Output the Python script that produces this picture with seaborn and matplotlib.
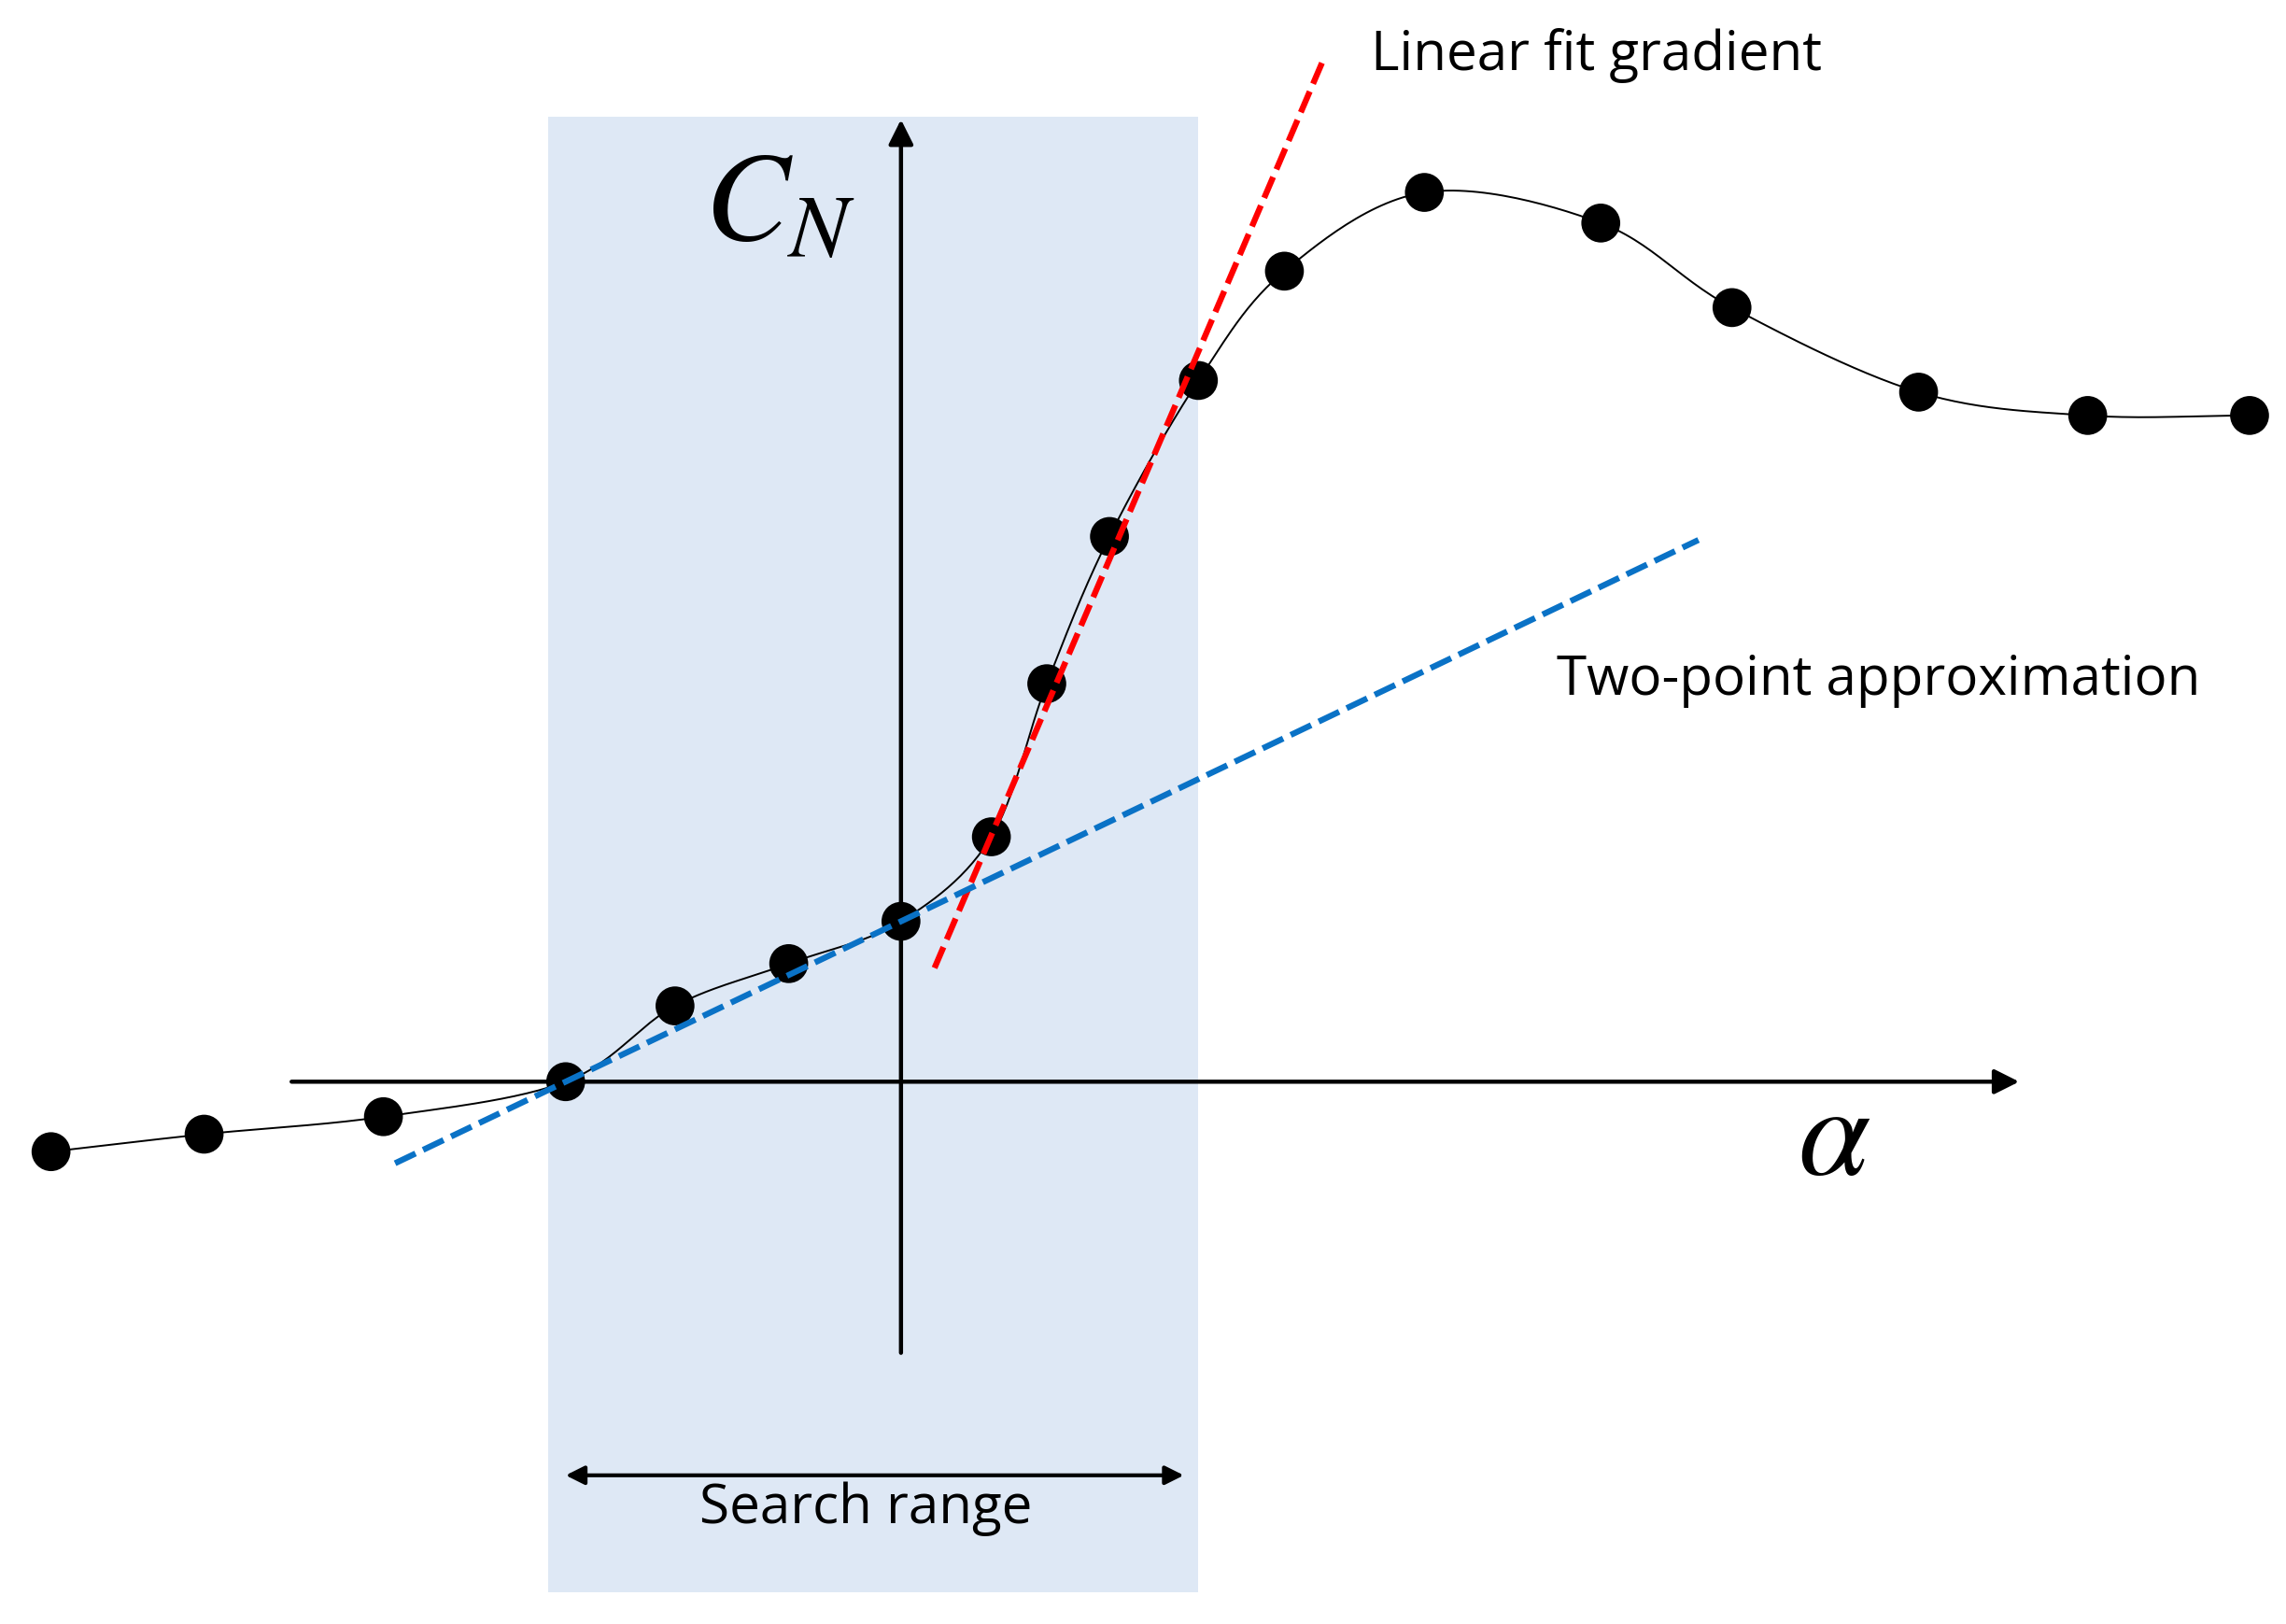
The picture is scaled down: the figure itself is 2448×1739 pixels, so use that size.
import numpy as np
import matplotlib
matplotlib.use("Agg")
import matplotlib.pyplot as plt
import seaborn as sns

# sample points of the normal force curve (origin at axes crossing)
alpha = [-583, -478, -355, -230, -155, -77, 0, 62, 100, 143, 204, 263, 359, 480, 570, 698, 814, 925]
cn = [-48, -36, -24, 0, 52, 81, 110, 168, 273, 374, 481, 556, 610, 589, 531, 473, 457, 457]

# linear fit line (red) and the two points used for the two-point approximation (blue)
fit_slope = 2.336
fit_intercept = 24.3
fit_range = [23, 291]
two_point_idx = [3, 6]
two_point_range = [-347, 547]

search_range = [-242, 204]


def catmull_rom(x, y, n=30):
    x = np.asarray(x, float)
    y = np.asarray(y, float)
    px = np.concatenate([[2 * x[0] - x[1]], x, [2 * x[-1] - x[-2]]])
    py = np.concatenate([[2 * y[0] - y[1]], y, [2 * y[-1] - y[-2]]])
    t = np.linspace(0, 1, n)
    xs, ys = [], []
    for i in range(1, len(px) - 2):
        for p, out in ((px, xs), (py, ys)):
            p0, p1, p2, p3 = p[i - 1], p[i], p[i + 1], p[i + 2]
            out.extend(0.5 * ((2 * p1) + (-p0 + p2) * t
                              + (2 * p0 - 5 * p1 + 4 * p2 - p3) * t ** 2
                              + (-p0 + 3 * p1 - 3 * p2 + p3) * t ** 3))
    return np.array(xs), np.array(ys)


sns.set_style("white")
plt.rcParams["font.family"] = ["Open Sans", "DejaVu Sans"]
plt.rcParams["mathtext.fontset"] = "stix"
plt.rcParams["text.color"] = "black"

fig = plt.figure(figsize=(24.48, 17.39), dpi=100)
ax = fig.add_axes([0, 0, 1, 1])
ax.set_xlim(-618, 950)
ax.set_ylim(-372, 742)
ax.axis("off")

# search range band
ax.fill_between(search_range, -350, 662, color="#dee8f5", zorder=0, lw=0)

# axes arrows
ax.annotate("", xy=(767, 0), xytext=(-418, 0),
            arrowprops=dict(arrowstyle="-|>", lw=3.2, color="black", mutation_scale=40, shrinkA=0, shrinkB=0))
ax.annotate("", xy=(0, 660), xytext=(0, -186),
            arrowprops=dict(arrowstyle="-|>", lw=3.2, color="black", mutation_scale=40, shrinkA=0, shrinkB=0))

# smooth curve and points
sx, sy = catmull_rom(alpha, cn)
sns.lineplot(x=sx, y=sy, sort=False, color="black", lw=1.4, ax=ax, zorder=3)
sns.scatterplot(x=alpha, y=cn, color="black", s=900, edgecolor="none", ax=ax, zorder=4)

# linear fit gradient
fx = np.array(fit_range, float)
ax.plot(fx, fit_slope * fx + fit_intercept, color="#ff0000", lw=4.6, ls=(0, (3.8, 1.4)), zorder=5)

# two-point approximation
i0, i1 = two_point_idx
slope2 = (cn[i1] - cn[i0]) / (alpha[i1] - alpha[i0])
tx = np.array(two_point_range, float)
ax.plot(tx, cn[i0] + slope2 * (tx - alpha[i0]), color="#0a72c6", lw=4.6, ls=(0, (3.8, 1.4)), zorder=5)

# search range arrow
ax.annotate("", xy=(194, -270), xytext=(-230, -270),
            arrowprops=dict(arrowstyle="<|-|>", lw=3, color="black", mutation_scale=30, shrinkA=0, shrinkB=0))

ax.text(-24, -293, "Search range", fontsize=42, ha="center", va="center")
ax.text(322, 704, "Linear fit gradient", fontsize=42, ha="left", va="center")
ax.text(450, 275, "Two-point approximation", fontsize=42, ha="left", va="center")
ax.text(-83, 600, r"$C_N$", fontsize=98, ha="center", va="center")
ax.text(640, -40, r"$\alpha$", fontsize=100, ha="center", va="center")

fig.savefig("out.png", dpi=100, facecolor="white")
